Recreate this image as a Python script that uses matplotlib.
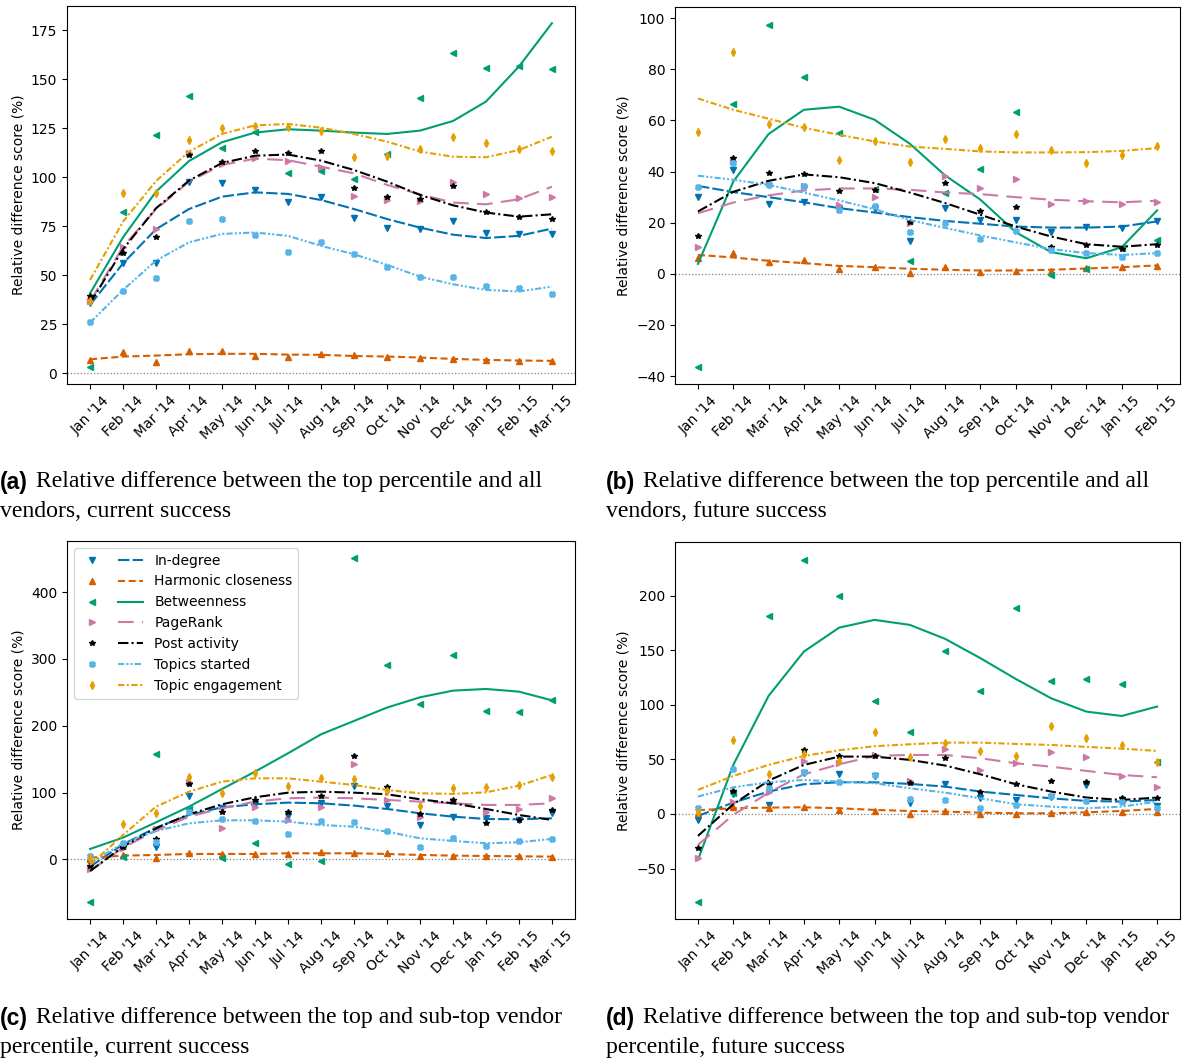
import matplotlib
matplotlib.use("Agg")
import matplotlib.pyplot as plt
from matplotlib.legend_handler import HandlerTuple

# months on the x axis
months_a = ["Jan '14", "Feb '14", "Mar '14", "Apr '14", "May '14", "Jun '14", "Jul '14",
            "Aug '14", "Sep '14", "Oct '14", "Nov '14", "Dec '14", "Jan '15", "Feb '15", "Mar '15"]
months_b = months_a[:14]

names = ["In-degree", "Harmonic closeness", "Betweenness", "PageRank",
         "Post activity", "Topics started", "Topic engagement"]

# (a) top percentile vs all vendors, current success : monthly points
a_pts_indeg = [36, 56.1, 56.1, 97.8, 97.3, 93.5, 87.4, 89.8, 79.1, 74.1, 73.5, 77.7, 71.4, 70.9, 70.9]
a_pts_harm = [6.8, 10.7, 5.6, 11.1, 11.1, 8.8, 8.2, 9.7, 9.4, 8.5, 8.0, 7.3, 6.8, 6.3, 6.3]
a_pts_betw = [3.4, 82.1, 121.8, 141.7, 115.0, 123.0, 102.4, 103.2, 99.0, 112.1, 140.3, 163.3, 155.6, 156.8, 155.1]
a_pts_pager = [37, 64.3, 73.6, 112.2, 107, 109.7, 108.3, 105.4, 90.6, 88.4, 87.9, 97.8, 91.5, 89.3, 89.8]
a_pts_post = [39.6, 61.2, 69.7, 111.2, 107.7, 113.6, 112.2, 113.4, 94.7, 89.8, 88.9, 95.6, 82.1, 79.9, 78.9]
a_pts_topics = [26.2, 42.2, 48.5, 77.9, 78.6, 70.6, 61.7, 66.8, 60.7, 54.4, 49.0, 49.3, 44.7, 43.4, 40.5]
a_pts_engage = [37, 92.2, 91.8, 119.2, 125.0, 126.4, 125.9, 123.8, 110.5, 110.7, 114.5, 120.4, 117.7, 114.3, 113.6]
# (a) trend lines
a_fit_indeg = [34.9, 56.1, 73.5, 83.8, 90.1, 92.3, 91.5, 88.4, 83.8, 78.7, 74.3, 70.7, 69.0, 70.1, 73.8]
a_fit_harm = [7.1, 8.5, 9.0, 9.7, 9.9, 9.9, 9.5, 9.4, 8.8, 8.5, 8.0, 7.3, 6.8, 6.5, 6.3]
a_fit_betw = [40.8, 69.4, 92.7, 108.3, 117.9, 122.8, 124.5, 123.8, 122.8, 122.1, 123.8, 128.7, 138.6, 156.5, 178.6]
a_fit_pager = [36.6, 64.6, 83.7, 97.8, 106.3, 109.5, 108.7, 105.4, 102.0, 96.1, 91.3, 87.1, 86.2, 88.8, 95.2]
a_fit_post = [35.7, 63.3, 84.2, 98.3, 107.3, 111.0, 111.6, 108.5, 103.7, 97.8, 91.0, 85.7, 82.0, 79.9, 81.1]
a_fit_topics = [25.9, 42.5, 57.5, 66.8, 71.1, 71.8, 70.1, 65.0, 60.7, 55.3, 49.3, 45.4, 42.5, 41.7, 44.2]
a_fit_engage = [47.6, 77.4, 98.1, 113.1, 122.1, 126.5, 127.2, 125.3, 122.1, 118.2, 113.1, 110.5, 110.2, 113.9, 120.7]

# (b) top percentile vs all vendors, future success
b_pts_indeg = [30.0, 40.7, 27.4, 28.0, 25.4, 25.3, 13.0, 25.7, 21.1, 21.1, 16.3, 18.5, 17.9, 20.5]
b_pts_harm = [6.1, 8.3, 4.7, 5.3, 1.7, 2.7, 0.5, 2.5, 0.9, 1.3, 1.3, 2.2, 2.6, 3.1]
b_pts_betw = [-36.5, 66.4, 97.5, 77.0, 55.2, 33.3, 5.1, 31.6, 41.0, 63.3, -0.5, 1.8, 10.0, 13.3]
b_pts_pager = [10.6, 44.0, 35.5, 34.4, 27.1, 29.9, 19.8, 38.1, 33.5, 37.1, 27.5, 28.4, 27.3, 28.2]
b_pts_post = [15.0, 45.3, 39.5, 39.0, 32.6, 32.9, 20.2, 35.7, 24.7, 26.0, 10.4, 11.4, 9.7, 11.4]
b_pts_topics = [33.8, 43.3, 34.6, 34.2, 24.8, 26.4, 16.3, 19.8, 13.6, 16.6, 9.4, 8.3, 6.5, 8.1]
b_pts_engage = [55.4, 86.9, 58.7, 57.3, 44.6, 51.8, 43.7, 52.7, 49.4, 54.7, 48.5, 43.3, 46.3, 50.2]
b_fit_indeg = [34.4, 32.0, 30.0, 28.0, 25.7, 24.0, 22.2, 20.7, 19.6, 18.5, 18.1, 18.1, 18.5, 20.5]
b_fit_harm = [7.4, 6.4, 5.1, 4.2, 3.1, 2.6, 2.0, 1.6, 1.3, 1.3, 1.6, 2.1, 2.6, 3.3]
b_fit_betw = [3.9, 36.1, 54.7, 64.2, 65.4, 60.3, 50.9, 38.5, 29.0, 16.3, 8.5, 6.1, 10.4, 24.8]
b_fit_pager = [23.7, 27.9, 30.7, 32.6, 33.4, 33.4, 32.9, 31.8, 31.2, 30.0, 29.0, 28.4, 28.0, 28.6]
b_fit_post = [24.4, 32.1, 36.4, 38.9, 37.8, 35.5, 31.8, 27.7, 23.1, 18.5, 14.6, 11.6, 10.6, 11.6]
b_fit_topics = [38.4, 36.8, 34.8, 31.8, 28.7, 25.3, 21.0, 18.0, 15.0, 12.3, 9.7, 8.1, 7.4, 8.1]
b_fit_engage = [68.6, 64.2, 60.7, 57.1, 54.4, 51.8, 49.8, 48.9, 47.9, 47.5, 47.5, 47.6, 48.1, 49.2]

# (c) top vs sub-top vendor percentile, current success
c_pts_indeg = [-5, 19, 18, 95.4, 76.4, 82.4, 64.9, 83.9, 110.3, 79.9, 51.4, 63.9, 61.4, 58.9, 68.9]
c_pts_harm = [0, 6.5, 2.5, 9, 8, 7.5, 7.5, 10.5, 9, 9, 5.5, 5.5, 5, 5, 4]
c_pts_betw = [-63.4, 4, 158.3, 75, 1.5, 24, -7.5, -2.5, 450.8, 290.6, 232.7, 306, 222.7, 221.2, 238.6]
c_pts_pager = [-15, 16.5, 45, 116, 47.4, 78.4, 58.9, 78.4, 142.8, 88.9, 62.9, 87.9, 71.4, 75.4, 91.4]
c_pts_post = [-10, 19, 30.5, 112.8, 71.4, 88.9, 71.4, 95.4, 154.8, 107.8, 68.4, 88.9, 53.9, 58.9, 73.9]
c_pts_topics = [5, 24, 26.5, 70.4, 60.4, 57.9, 37.9, 57.4, 56.4, 42.4, 19, 32.5, 20.5, 27.5, 30.5]
c_pts_engage = [2, 52.4, 69.9, 122.8, 99.9, 128.8, 109.8, 122.3, 120.3, 102.8, 80.4, 106.3, 107.8, 111.3, 122.8]
c_fit_indeg = [-11, 22.5, 47.4, 66.4, 77.9, 82.4, 84.9, 83.9, 80.4, 75.4, 68.9, 63.9, 60.4, 59.9, 61.4]
c_fit_harm = [2.5, 5.5, 6.5, 8, 8, 8, 9, 9, 9, 8, 6.5, 5.5, 5, 4.5, 4]
c_fit_betw = [15.5, 32.5, 55.4, 78.9, 105.3, 131.3, 158.8, 187.2, 207.2, 227.2, 242.6, 252.6, 255.1, 251.1, 238.1]
c_fit_pager = [-17.5, 17.5, 43, 63.9, 76.4, 86.4, 91.4, 92.4, 91.4, 88.9, 86.4, 83.9, 81.4, 81.4, 83.9]
c_fit_post = [-17.5, 19, 46.4, 67.4, 82.4, 92.9, 99.8, 101.3, 99.8, 97.4, 89.9, 83.9, 75.4, 66.4, 58.9]
c_fit_topics = [-6, 24, 42.4, 53.9, 58.4, 58.4, 56.4, 51.4, 48.9, 41.4, 31.5, 27.5, 24, 25.5, 30.5]
c_fit_engage = [-8.5, 36.4, 78.9, 101.3, 116.3, 121.3, 121.3, 116.3, 111.3, 103.8, 98.9, 97.9, 100.3, 110.3, 126.3]

# (d) top vs sub-top vendor percentile, future success
d_pts_indeg = [-5.5, 18, 8.2, 37.5, 36.6, 35.1, 10.4, 27.2, 15, 12.8, 15.9, 26.6, 12.8, 7.6]
d_pts_harm = [1.2, 6.1, 5.8, 6.7, 3.7, 2.7, -0.3, 2.7, 0, 0, 0.6, 1.5, 2.1, 1.5]
d_pts_betw = [-80.9, 19.5, 181, 232.6, 199.6, 103.5, 75.1, 149.3, 112.6, 189, 121.8, 123.6, 118.7, 47.9]
d_pts_pager = [-40, 11.3, 20.5, 48.8, 46.4, 54, 30.5, 59.2, 40.3, 46.4, 57.1, 52.5, 34.8, 25]
d_pts_post = [-31.4, 21.4, 27.2, 58.3, 53.1, 53.4, 28.1, 51.6, 20.5, 27.2, 30.2, 29, 14.3, 14.3]
d_pts_topics = [5.8, 40.9, 23.5, 38.2, 29, 35.7, 13.4, 12.8, 5.8, 8.2, 16.8, 11.9, 11.3, 5.8]
d_pts_engage = [2.1, 67.8, 36.3, 54.6, 48.5, 75.4, 52.2, 64.7, 57.7, 53.4, 80.6, 69.9, 63.2, 47.9]
d_fit_indeg = [-1.8, 10.4, 20.5, 27.2, 29, 29, 27.5, 25, 20.5, 17.4, 14.3, 11.9, 11.3, 12.8]
d_fit_harm = [3.4, 5.2, 5.8, 6.1, 5.2, 3.7, 2.7, 2.1, 1.2, 0.6, 0.6, 1.5, 2.7, 4.6]
d_fit_betw = [-42.1, 44.9, 108.1, 148.7, 170.6, 177.7, 173.1, 160.3, 142.6, 123.6, 105.9, 93.7, 89.7, 98.3]
d_fit_pager = [-28.4, -0.9, 19.5, 36.3, 45.5, 53.1, 54, 54, 51, 46.4, 43.3, 39.4, 35.7, 33.6]
d_fit_post = [-20.1, 8.9, 30.5, 44.9, 52.5, 52.5, 49.5, 44.3, 36.3, 27.2, 20.5, 15, 12.8, 15]
d_fit_topics = [15.9, 24.4, 29, 31.1, 29.6, 28.1, 23.5, 19.5, 14.3, 8.9, 6.7, 5.2, 6.7, 11.3]
d_fit_engage = [22, 34.8, 44.9, 53.1, 58.3, 62, 63.8, 65.3, 65.3, 64.1, 63.2, 61.4, 59.8, 57.7]

colors = ["#0072B2", "#D55E00", "#009E73", "#CC79A7", "#000000", "#56B4E9", "#E69F00"]
markers = ["v", "^", "<", ">", "*", "X", "d"]
styles = [(0, (5.5, 1.5)), (0, (3.4, 1.7)), "-", (0, (7.5, 4)),
          (0, (5, 1.5, 1, 1.5)), (0, (3, 1, 1, 1, 1, 1)), (0, (3, 1.2, 1, 1.2))]

W, H = 1182, 1060
fig = plt.figure(figsize=(W / 100, H / 100), dpi=100)


def panel(rect, months, pts, fits, ylim, legend=False):
    ax = fig.add_axes([rect[0] / W, 1 - rect[3] / H, (rect[2] - rect[0]) / W, (rect[3] - rect[1]) / H])
    x = list(range(len(months)))
    handles = []
    for i in range(7):
        p, = ax.plot(x, pts[i], linestyle="none", marker=markers[i], color=colors[i], markersize=4)
        l, = ax.plot(x, fits[i], linestyle=styles[i], color=colors[i], linewidth=1.5)
        handles.append((p, l))
    ax.axhline(0, color="gray", linestyle=":", linewidth=0.9, zorder=0)
    ax.set_xticks(x)
    ax.set_xticklabels(months, rotation=45)
    ax.set_xlim(-0.05 * (len(x) - 1), (len(x) - 1) * 1.05)
    ax.set_ylim(*ylim)
    ax.set_ylabel("Relative difference score (%)")
    if legend:
        ax.legend(handles, names, loc="upper left", handlelength=4.6,
                  handler_map={tuple: HandlerTuple(ndivide=None, pad=0.9)})
    return ax


panel((67, 6, 575, 384), months_a,
      [a_pts_indeg, a_pts_harm, a_pts_betw, a_pts_pager, a_pts_post, a_pts_topics, a_pts_engage],
      [a_fit_indeg, a_fit_harm, a_fit_betw, a_fit_pager, a_fit_post, a_fit_topics, a_fit_engage],
      (-5.5, 187.4))
panel((675, 7, 1180, 384), months_b,
      [b_pts_indeg, b_pts_harm, b_pts_betw, b_pts_pager, b_pts_post, b_pts_topics, b_pts_engage],
      [b_fit_indeg, b_fit_harm, b_fit_betw, b_fit_pager, b_fit_post, b_fit_topics, b_fit_engage],
      (-43.1, 104.4))
panel((67, 541, 575, 919), months_a,
      [c_pts_indeg, c_pts_harm, c_pts_betw, c_pts_pager, c_pts_post, c_pts_topics, c_pts_engage],
      [c_fit_indeg, c_fit_harm, c_fit_betw, c_fit_pager, c_fit_post, c_fit_topics, c_fit_engage],
      (-89.4, 476.7), legend=True)
panel((675, 542, 1180, 919), months_b,
      [d_pts_indeg, d_pts_harm, d_pts_betw, d_pts_pager, d_pts_post, d_pts_topics, d_pts_engage],
      [d_fit_indeg, d_fit_harm, d_fit_betw, d_fit_pager, d_fit_post, d_fit_topics, d_fit_engage],
      (-96.2, 249))

# captions under each panel
captions = [
    (0, 36, 482, "(a)", "Relative difference between the top percentile and all", "vendors, current success"),
    (606, 643, 482, "(b)", "Relative difference between the top percentile and all", "vendors, future success"),
    (0, 36, 1018, "(c)", "Relative difference between the top and sub-top vendor", "percentile, current success"),
    (606, 643, 1018, "(d)", "Relative difference between the top and sub-top vendor", "percentile, future success"),
]
for x0, x1, y0, tag, line1, line2 in captions:
    fig.text(x0 / W, 1 - y0 / H, tag, family="Liberation Sans", weight="bold", fontsize=16.5, va="center")
    fig.text(x1 / W, 1 - y0 / H, line1, family="Liberation Serif", fontsize=17.1, va="center")
    fig.text(x0 / W, 1 - (y0 + 29) / H, line2, family="Liberation Serif", fontsize=17.1, va="center")

fig.savefig("out.png", dpi=100)
